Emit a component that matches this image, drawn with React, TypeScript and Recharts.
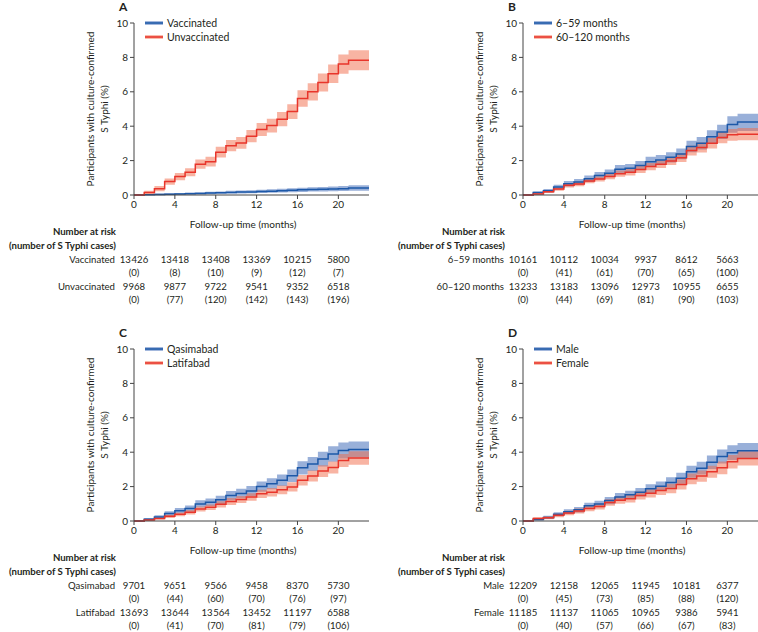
import React from "react";
import { ComposedChart, Line, Area, XAxis, YAxis } from "recharts";

// follow-up months where the step curves change (last point closes the final step)
const MONTHS = [0, 1, 2, 3, 4, 5, 6, 7, 8, 9, 10, 11, 12, 13, 14, 15, 16, 17, 18, 19, 20, 21, 23];
const X_TICKS = [0, 4, 8, 12, 16, 20];
const Y_TICKS = [0, 2, 4, 6, 8, 10];
const RISK_MONTHS = [0, 4, 8, 12, 16, 20];

// A: vaccination status
const vaccinatedEst = [0, 0.01, 0.03, 0.045, 0.06, 0.075, 0.09, 0.11, 0.13, 0.15, 0.17, 0.18, 0.2, 0.22, 0.25, 0.27, 0.3, 0.32, 0.34, 0.35, 0.37, 0.4, 0.4];
const vaccinatedLow = [0, 0, 0, 0.01, 0.02, 0.03, 0.04, 0.05, 0.07, 0.08, 0.09, 0.1, 0.11, 0.13, 0.15, 0.16, 0.18, 0.2, 0.21, 0.22, 0.23, 0.25, 0.25];
const vaccinatedHigh = [0, 0.05, 0.08, 0.1, 0.12, 0.14, 0.16, 0.19, 0.21, 0.24, 0.26, 0.28, 0.3, 0.33, 0.36, 0.39, 0.42, 0.45, 0.47, 0.49, 0.52, 0.56, 0.56];
const unvaccinatedEst = [0, 0.15, 0.37, 0.78, 1.07, 1.32, 1.79, 1.94, 2.49, 2.87, 3.03, 3.42, 3.81, 4.04, 4.41, 4.85, 5.61, 6.0, 6.54, 7.05, 7.61, 7.83, 7.83];
const unvaccinatedLow = [0, 0.05, 0.22, 0.6, 0.86, 1.09, 1.52, 1.66, 2.18, 2.54, 2.69, 3.06, 3.43, 3.64, 4.0, 4.42, 5.13, 5.5, 6.02, 6.51, 7.05, 7.25, 7.25];
const unvaccinatedHigh = [0, 0.25, 0.52, 0.96, 1.28, 1.55, 2.06, 2.22, 2.8, 3.2, 3.37, 3.78, 4.19, 4.44, 4.82, 5.28, 6.09, 6.5, 7.06, 7.59, 8.17, 8.41, 8.41];
const vaccinatedAtRisk = [13426, 13418, 13408, 13369, 10215, 5800];
const vaccinatedCases = [0, 8, 10, 9, 12, 7];
const unvaccinatedAtRisk = [9968, 9877, 9722, 9541, 9352, 6518];
const unvaccinatedCases = [0, 77, 120, 142, 143, 196];

// B: age group
const youngEst = [0, 0.14, 0.25, 0.47, 0.66, 0.76, 0.95, 1.13, 1.26, 1.5, 1.55, 1.71, 1.94, 2.04, 2.19, 2.39, 2.82, 3.01, 3.38, 3.67, 4.1, 4.25, 4.25];
const youngLow = [0, 0.07, 0.15, 0.34, 0.5, 0.59, 0.76, 0.92, 1.04, 1.26, 1.3, 1.45, 1.66, 1.75, 1.89, 2.08, 2.48, 2.65, 2.99, 3.26, 3.62, 3.72, 3.72];
const youngHigh = [0, 0.21, 0.35, 0.6, 0.82, 0.93, 1.14, 1.34, 1.48, 1.74, 1.8, 1.97, 2.22, 2.33, 2.49, 2.7, 3.16, 3.37, 3.77, 4.08, 4.58, 4.72, 4.72];
const olderEst = [0, 0.06, 0.19, 0.35, 0.56, 0.64, 0.82, 0.93, 1.07, 1.24, 1.32, 1.48, 1.65, 1.79, 1.98, 2.17, 2.58, 2.76, 3.01, 3.34, 3.5, 3.53, 3.53];
const olderLow = [0, 0.02, 0.11, 0.25, 0.44, 0.51, 0.68, 0.78, 0.91, 1.06, 1.13, 1.28, 1.44, 1.57, 1.75, 1.92, 2.3, 2.47, 2.7, 3.01, 3.16, 3.18, 3.18];
const olderHigh = [0, 0.1, 0.27, 0.45, 0.68, 0.77, 0.96, 1.08, 1.23, 1.42, 1.51, 1.68, 1.86, 2.01, 2.21, 2.42, 2.86, 3.05, 3.32, 3.67, 3.84, 3.9, 3.9];
const youngAtRisk = [10161, 10112, 10034, 9937, 8612, 5663];
const youngCases = [0, 41, 61, 70, 65, 100];
const olderAtRisk = [13233, 13183, 13096, 12973, 10955, 6655];
const olderCases = [0, 44, 69, 81, 90, 103];

// C: town
const qasimabadEst = [0, 0.1, 0.23, 0.43, 0.6, 0.72, 0.99, 1.09, 1.23, 1.48, 1.6, 1.75, 2.0, 2.16, 2.37, 2.63, 3.09, 3.31, 3.6, 3.89, 4.1, 4.16, 4.16];
const qasimabadLow = [0, 0.03, 0.12, 0.29, 0.44, 0.54, 0.78, 0.87, 0.99, 1.21, 1.32, 1.46, 1.7, 1.84, 2.03, 2.27, 2.7, 2.9, 3.17, 3.44, 3.63, 3.7, 3.7];
const qasimabadHigh = [0, 0.17, 0.34, 0.57, 0.76, 0.9, 1.2, 1.31, 1.47, 1.75, 1.88, 2.04, 2.3, 2.48, 2.71, 2.99, 3.48, 3.72, 4.03, 4.34, 4.57, 4.62, 4.62];
const latifabadEst = [0, 0.06, 0.14, 0.27, 0.39, 0.51, 0.7, 0.8, 0.97, 1.13, 1.25, 1.4, 1.58, 1.67, 1.81, 1.98, 2.37, 2.61, 2.9, 3.11, 3.52, 3.66, 3.66];
const latifabadLow = [0, 0.02, 0.08, 0.18, 0.28, 0.38, 0.55, 0.64, 0.79, 0.93, 1.04, 1.18, 1.34, 1.42, 1.55, 1.71, 2.07, 2.29, 2.56, 2.76, 3.14, 3.27, 3.27];
const latifabadHigh = [0, 0.1, 0.2, 0.36, 0.5, 0.64, 0.85, 0.96, 1.15, 1.33, 1.46, 1.62, 1.82, 1.92, 2.07, 2.25, 2.67, 2.93, 3.24, 3.46, 3.9, 4.05, 4.05];
const qasimabadAtRisk = [9701, 9651, 9566, 9458, 8370, 5730];
const qasimabadCases = [0, 44, 60, 70, 76, 97];
const latifabadAtRisk = [13693, 13644, 13564, 13452, 11197, 6588];
const latifabadCases = [0, 41, 70, 81, 79, 106];

// D: sex
const maleEst = [0, 0.08, 0.21, 0.39, 0.54, 0.66, 0.88, 0.99, 1.19, 1.4, 1.52, 1.67, 1.87, 2.02, 2.24, 2.49, 2.86, 3.07, 3.42, 3.75, 3.97, 4.09, 4.09];
const maleLow = [0, 0.03, 0.12, 0.27, 0.4, 0.5, 0.7, 0.8, 0.98, 1.17, 1.28, 1.42, 1.6, 1.74, 1.94, 2.17, 2.51, 2.7, 3.03, 3.34, 3.54, 3.65, 3.65];
const maleHigh = [0, 0.13, 0.3, 0.51, 0.68, 0.82, 1.06, 1.18, 1.4, 1.63, 1.76, 1.92, 2.14, 2.3, 2.54, 2.81, 3.21, 3.44, 3.81, 4.16, 4.4, 4.53, 4.53];
const femaleEst = [0, 0.14, 0.19, 0.33, 0.47, 0.58, 0.72, 0.84, 1.07, 1.21, 1.3, 1.48, 1.61, 1.77, 1.89, 2.12, 2.45, 2.61, 2.86, 3.09, 3.44, 3.64, 3.64];
const femaleLow = [0, 0.06, 0.1, 0.22, 0.34, 0.44, 0.57, 0.67, 0.88, 1.0, 1.08, 1.25, 1.37, 1.51, 1.62, 1.83, 2.14, 2.28, 2.51, 2.72, 3.05, 3.23, 3.23];
const femaleHigh = [0, 0.22, 0.28, 0.44, 0.6, 0.72, 0.88, 1.01, 1.26, 1.42, 1.52, 1.71, 1.85, 2.03, 2.16, 2.41, 2.76, 2.94, 3.21, 3.46, 3.83, 4.05, 4.05];
const maleAtRisk = [12209, 12158, 12065, 11945, 10181, 6377];
const maleCases = [0, 45, 73, 85, 88, 120];
const femaleAtRisk = [11185, 11137, 11065, 10965, 9386, 5941];
const femaleCases = [0, 40, 57, 66, 67, 83];

const BLUE_LINE = "#1d58a8";
const BLUE_BAND = "#3462b4";
const RED_LINE = "#e8352b";
const RED_BAND = "#f26a48";
const TEXT = "#231f20";
const AXIS = "#444";
const FONT = "Lato, 'Open Sans', sans-serif";

// chart geometry inside one panel
const CHART_W = 379;
const CHART_H = 215;
const PLOT_LEFT = 134;
const PLOT_RIGHT = 369;
const X_MAX = 23;

type Group = {
  name: string;
  est: number[];
  low: number[];
  high: number[];
  atRisk: number[];
  cases: number[];
};

const fmt = (n: number) => {
  const s = String(n);
  return n >= 10000 ? s.slice(0, s.length - 3) + "\u200A" + s.slice(-3) : s;
};

const xPos = (m: number) => PLOT_LEFT + (m / X_MAX) * (PLOT_RIGHT - PLOT_LEFT);

function Swatch({ line, band }: { line: string; band: string }) {
  return (
    <svg width={18} height={6} style={{ display: "block" }}>
      <rect x={0} y={1} width={18} height={4} fill={band} fillOpacity={0.45} />
      <line x1={0} x2={18} y1={3} y2={3} stroke={line} strokeWidth={1.6} />
    </svg>
  );
}

function Panel({ letter, left, top, groups }: { letter: string; left: number; top: number; groups: Group[] }) {
  const [blue, red] = groups;
  const data = MONTHS.map((m, i) => ({
    month: m,
    blue: blue.est[i],
    blueCi: [blue.low[i], blue.high[i]],
    red: red.est[i],
    redCi: [red.low[i], red.high[i]],
  }));

  const abs = (x: number, y: number): React.CSSProperties => ({ position: "absolute", left: x, top: y });
  const cell: React.CSSProperties = { fontSize: 9.6, lineHeight: "14px", color: TEXT, whiteSpace: "nowrap" };

  return (
    <div style={{ position: "absolute", left, top, width: CHART_W, height: 310 }}>
      <div style={{ ...abs(PLOT_LEFT - 15, 0), fontSize: 12, lineHeight: "13px", fontWeight: 700, color: TEXT }}>{letter}</div>

      <div
        style={{
          position: "absolute",
          left: 97 - 100,
          top: 109 - 14,
          width: 200,
          height: 28,
          transform: "rotate(-90deg)",
          textAlign: "center",
          fontSize: 10,
          lineHeight: "14px",
          color: TEXT,
        }}
      >
        Participants with culture-confirmed
        <br />S Typhi (%)
      </div>

      <div style={{ position: "absolute", left: 0, top: 0 }}>
        <ComposedChart width={CHART_W} height={CHART_H} data={data} margin={{ top: 23, right: 10, left: 0, bottom: 0 }}>
          <XAxis
            dataKey="month"
            type="number"
            domain={[0, X_MAX]}
            ticks={X_TICKS}
            height={20}
            tickSize={4}
            tickMargin={2}
            stroke={AXIS}
            tick={{ fontSize: 10, fill: TEXT, fontFamily: FONT }}
          />
          <YAxis
            type="number"
            domain={[0, 10]}
            ticks={Y_TICKS}
            width={PLOT_LEFT}
            tickSize={4}
            tickMargin={2}
            stroke={AXIS}
            tick={{ fontSize: 10, fill: TEXT, fontFamily: FONT }}
          />
          <Area dataKey="blueCi" type="stepAfter" stroke="none" fill={BLUE_BAND} fillOpacity={0.5} isAnimationActive={false} activeDot={false} />
          <Area dataKey="redCi" type="stepAfter" stroke="none" fill={RED_BAND} fillOpacity={0.5} isAnimationActive={false} activeDot={false} />
          <Line dataKey="blue" type="stepAfter" stroke={BLUE_LINE} strokeWidth={1.5} dot={false} activeDot={false} isAnimationActive={false} />
          <Line dataKey="red" type="stepAfter" stroke={RED_LINE} strokeWidth={1.5} dot={false} activeDot={false} isAnimationActive={false} />
        </ComposedChart>
      </div>

      {[
        { g: blue, line: BLUE_LINE, band: BLUE_BAND, y: 23 },
        { g: red, line: RED_LINE, band: RED_BAND, y: 37 },
      ].map((l) => (
        <div key={l.g.name} style={{ ...abs(PLOT_LEFT + 11, l.y - 7), display: "flex", alignItems: "center", height: 14, fontSize: 10.5, color: TEXT, whiteSpace: "nowrap" }}>
          <Swatch line={l.line} band={l.band} />
          <span style={{ marginLeft: 4 }}>{l.g.name}</span>
        </div>
      ))}

      <div style={{ ...abs(PLOT_LEFT + 109 - 100, 224 - 7), width: 200, textAlign: "center", fontSize: 10, lineHeight: "14px", color: TEXT }}>
        Follow-up time (months)
      </div>

      {[
        { t: "Number at risk", y: 232 },
        { t: "(number of S Typhi cases)", y: 246 },
      ].map((h) => (
        <div key={h.t} style={{ ...abs(PLOT_LEFT - 18 - 200, h.y - 7), width: 200, textAlign: "right", fontSize: 9.6, fontWeight: 700, lineHeight: "14px", color: TEXT, whiteSpace: "nowrap" }}>
          {h.t}
        </div>
      ))}

      {groups.map((g, gi) => {
        const y = 260 + gi * 27;
        return (
          <React.Fragment key={g.name}>
            <div style={{ ...abs(PLOT_LEFT - 19 - 200, y - 7), width: 200, textAlign: "right", ...cell }}>{g.name}</div>
            {RISK_MONTHS.map((m, i) => (
              <React.Fragment key={m}>
                <div style={{ ...abs(xPos(m) - 30, y - 7), width: 60, textAlign: "center", ...cell }}>{fmt(g.atRisk[i])}</div>
                <div style={{ ...abs(xPos(m) - 30, y + 13 - 7), width: 60, textAlign: "center", ...cell }}>({g.cases[i]})</div>
              </React.Fragment>
            ))}
          </React.Fragment>
        );
      })}
    </div>
  );
}

export default function App() {
  return (
    <div
      style={{
        position: "absolute",
        left: 0,
        top: 0,
        width: 758,
        height: 632,
        overflow: "hidden",
        background: "#fff",
        fontFamily: FONT,
      }}
    >
      <Panel
        letter="A"
        left={0}
        top={0}
        groups={[
          { name: "Vaccinated", est: vaccinatedEst, low: vaccinatedLow, high: vaccinatedHigh, atRisk: vaccinatedAtRisk, cases: vaccinatedCases },
          { name: "Unvaccinated", est: unvaccinatedEst, low: unvaccinatedLow, high: unvaccinatedHigh, atRisk: unvaccinatedAtRisk, cases: unvaccinatedCases },
        ]}
      />
      <Panel
        letter="B"
        left={389}
        top={0}
        groups={[
          { name: "6–59 months", est: youngEst, low: youngLow, high: youngHigh, atRisk: youngAtRisk, cases: youngCases },
          { name: "60–120 months", est: olderEst, low: olderLow, high: olderHigh, atRisk: olderAtRisk, cases: olderCases },
        ]}
      />
      <Panel
        letter="C"
        left={0}
        top={326}
        groups={[
          { name: "Qasimabad", est: qasimabadEst, low: qasimabadLow, high: qasimabadHigh, atRisk: qasimabadAtRisk, cases: qasimabadCases },
          { name: "Latifabad", est: latifabadEst, low: latifabadLow, high: latifabadHigh, atRisk: latifabadAtRisk, cases: latifabadCases },
        ]}
      />
      <Panel
        letter="D"
        left={389}
        top={326}
        groups={[
          { name: "Male", est: maleEst, low: maleLow, high: maleHigh, atRisk: maleAtRisk, cases: maleCases },
          { name: "Female", est: femaleEst, low: femaleLow, high: femaleHigh, atRisk: femaleAtRisk, cases: femaleCases },
        ]}
      />
    </div>
  );
}
